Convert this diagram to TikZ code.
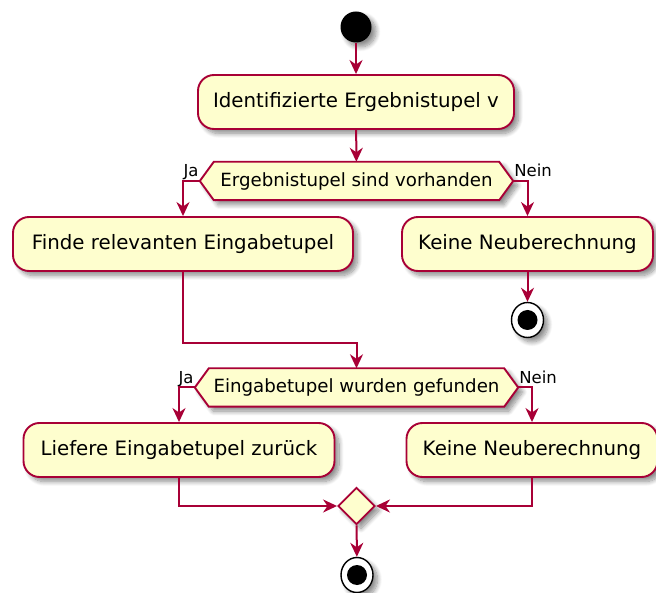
\documentclass[tikz,border=0pt]{standalone}
\usepackage{fontspec}
\setmainfont{DejaVu Sans}
\usetikzlibrary{arrows.meta,shapes.geometric,shadows.blur}
\definecolor{actfill}{HTML}{FEFECE}
\definecolor{actline}{HTML}{A80036}
\pgfdeclarelayer{bg}
\pgfsetlayers{bg,main}
\begin{document}
\begin{tikzpicture}[x=1pt,y=-1pt,
  softshadow/.style={blur shadow={shadow xshift=4.5pt,shadow yshift=-4.5pt,
      shadow blur steps=10,shadow blur radius=4.5pt,shadow opacity=45}},
  action/.style={draw=actline,fill=actfill,line width=1.9pt,
      rounded corners=16pt,minimum height=54pt,inner sep=0pt,
      font=\fontsize{19.8}{23}\selectfont,softshadow},
  hexnode/.style={minimum height=38pt,inner sep=0pt,
      font=\fontsize{18.2}{21}\selectfont},
  hexline/.style={draw=actline,fill=actfill,line width=1.9pt,softshadow},
  merge/.style={diamond,draw=actline,fill=actfill,line width=1.9pt,
      minimum width=37pt,minimum height=37pt,inner sep=0pt,softshadow},
  startdot/.style={circle,fill=black,minimum size=31pt,inner sep=0pt,softshadow},
  endring/.style={ellipse,draw=black,fill=white,line width=1.4pt,
      minimum width=32pt,minimum height=35pt,inner sep=0pt,softshadow},
  enddot/.style={circle,fill=black,minimum size=20pt,inner sep=0pt},
  guard/.style={font=\fontsize{16.5}{19}\selectfont,inner sep=0pt},
  flow/.style={draw=actline,line width=2pt,
      -{Stealth[length=14pt,width=13pt,inset=4.5pt]}},
  line/.style={draw=actline,line width=2pt}]
  \useasboundingbox (0,0) rectangle (656,593);

  % start and first action
  \node[startdot] (s) at (356,27) {};
  \node[action,minimum width=316pt] (b1) at (356,102) {Identifizierte Ergebnistupel v};

  % first decision
  \node[hexnode,minimum width=313pt] (h1) at (356.5,181) {Ergebnistupel sind vorhanden};
  \node[action,minimum width=340pt] (b2) at (183,244) {Finde relevanten Eingabetupel};
  \node[action,minimum width=251pt] (b3) at (527.5,244) {Keine Neuberechnung};
  \node[endring] (e1) at (527.5,320) {};
  \node[enddot] at (e1) {};

  % second decision
  \coordinate (j1) at (356.5,343);
  \node[hexnode,minimum width=323pt] (h2) at (356.5,387.5) {Eingabetupel wurden gefunden};
  \node[action,minimum width=311pt] (b4) at (179,450) {Liefere Eingabetupel zurück};
  \node[action,minimum width=251pt] (b5) at (532,450) {Keine Neuberechnung};

  % merge and final stop
  \node[merge] (m) at (356.5,506) {};
  \node[endring] (e2) at (357,575) {};
  \node[enddot] at (e2) {};

  % hexagon outlines behind the decision texts
  \begin{pgfonlayer}{bg}
    \foreach \h in {h1,h2}
      \path[hexline] (\h.west) -- ([xshift=14pt]\h.north west)
        -- ([xshift=-14pt]\h.north east) -- (\h.east)
        -- ([xshift=-14pt]\h.south east) -- ([xshift=14pt]\h.south west)
        -- cycle;
  \end{pgfonlayer}

  % guard labels
  \node[guard,anchor=base east] at ([xshift=-1pt,yshift=4pt]h1.west) {Ja};
  \node[guard,anchor=base west] at ([xshift=1pt,yshift=4pt]h1.east) {Nein};
  \node[guard,anchor=base east] at ([xshift=-1pt,yshift=4pt]h2.west) {Ja};
  \node[guard,anchor=base west] at ([xshift=1pt,yshift=4pt]h2.east) {Nein};

  % connectors
  \draw[flow] (s) -- (b1);
  \draw[flow] (b1) -- (h1);
  \draw[flow] (h1.west) -| (b2.north);
  \draw[flow] (h1.east) -| (b3.north);
  \draw[flow] (b3) -- (e1);
  \draw[flow] (b2.south) |- (j1) -- (h2.north);
  \draw[flow] (h2.west) -| (b4.north);
  \draw[flow] (h2.east) -| (b5.north);
  \draw[flow] (b4.south) |- (m.west);
  \draw[flow] (b5.south) |- (m.east);
  \draw[flow] (m) -- (e2);
\end{tikzpicture}
\end{document}
